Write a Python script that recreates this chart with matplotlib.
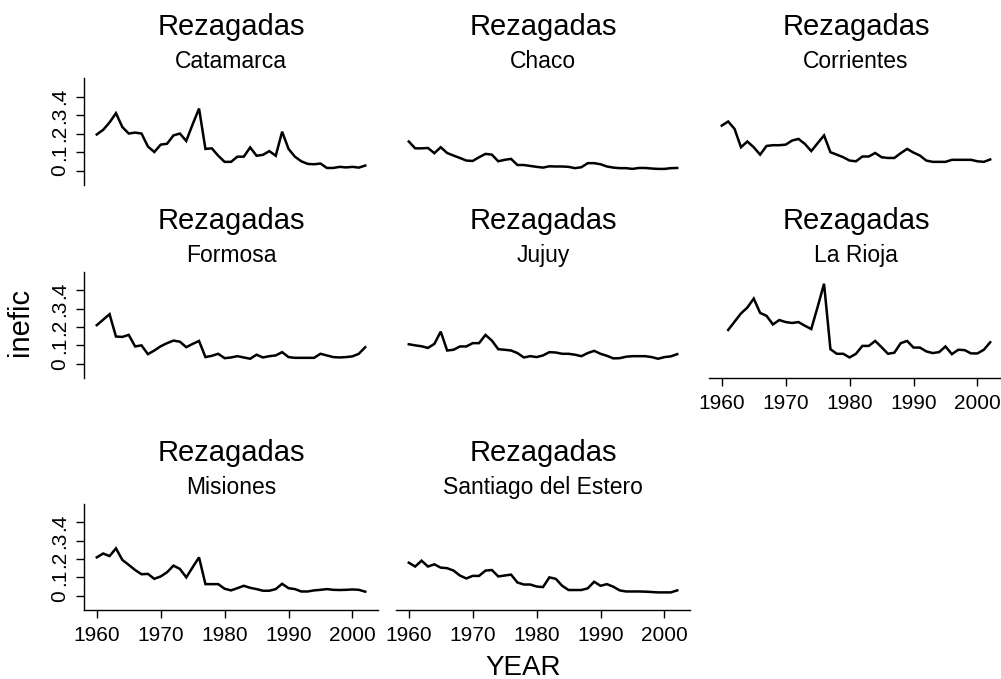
import numpy as np
import matplotlib
matplotlib.use("Agg")
import matplotlib.pyplot as plt

plt.rcParams['font.family'] = ['Liberation Sans', 'DejaVu Sans']

years = list(range(1960, 2003))
group_title = "Rezagadas"
provinces = ["Catamarca", "Chaco", "Corrientes", "Formosa", "Jujuy",
             "La Rioja", "Misiones", "Santiago del Estero"]

catamarca = [0.195, 0.22, 0.26, 0.31, 0.235, 0.20, 0.205, 0.20, 0.13, 0.10,
             0.14, 0.145, 0.19, 0.20, 0.16, 0.25, 0.335, 0.117, 0.12, 0.08,
             0.047, 0.047, 0.075, 0.075, 0.125, 0.08, 0.085, 0.105, 0.08, 0.21,
             0.117, 0.075, 0.05, 0.036, 0.034, 0.038, 0.014, 0.014, 0.02, 0.017,
             0.02, 0.016, 0.027]
chaco = [0.157, 0.12, 0.12, 0.122, 0.094, 0.126, 0.095, 0.081, 0.068, 0.054,
         0.052, 0.072, 0.09, 0.086, 0.05, 0.058, 0.063, 0.03, 0.03, 0.025,
         0.02, 0.016, 0.023, 0.022, 0.022, 0.02, 0.013, 0.018, 0.04, 0.04,
         0.034, 0.022, 0.016, 0.013, 0.013, 0.009, 0.014, 0.014, 0.011, 0.009,
         0.009, 0.013, 0.014]
corrientes = [0.243, 0.265, 0.225, 0.126, 0.157, 0.126, 0.086, 0.133, 0.137, 0.137,
              0.14, 0.162, 0.171, 0.144, 0.105, 0.148, 0.19, 0.099, 0.086, 0.072,
              0.054, 0.05, 0.076, 0.076, 0.095, 0.072, 0.068, 0.068, 0.094, 0.117,
              0.097, 0.081, 0.054, 0.047, 0.047, 0.047, 0.058, 0.058, 0.058, 0.058,
              0.05, 0.047, 0.06]
formosa = [0.21, 0.24, 0.27, 0.148, 0.146, 0.157, 0.094, 0.10, 0.052, 0.072,
           0.095, 0.112, 0.126, 0.12, 0.09, 0.108, 0.124, 0.036, 0.043, 0.054,
           0.03, 0.034, 0.041, 0.034, 0.027, 0.049, 0.034, 0.041, 0.045, 0.063,
           0.036, 0.032, 0.032, 0.032, 0.032, 0.054, 0.045, 0.036, 0.034, 0.036,
           0.04, 0.054, 0.09]
jujuy = [0.106, 0.10, 0.095, 0.086, 0.108, 0.175, 0.072, 0.076, 0.094, 0.094,
         0.112, 0.112, 0.157, 0.126, 0.079, 0.076, 0.072, 0.058, 0.034, 0.041,
         0.036, 0.045, 0.063, 0.061, 0.054, 0.054, 0.049, 0.041, 0.058, 0.07,
         0.054, 0.043, 0.029, 0.03, 0.038, 0.041, 0.041, 0.041, 0.036, 0.027,
         0.036, 0.04, 0.052]
la_rioja = [np.nan, 0.184, 0.229, 0.274, 0.306, 0.355, 0.277, 0.261, 0.214, 0.238,
            0.227, 0.222, 0.227, 0.207, 0.189, 0.31, 0.436, 0.079, 0.054, 0.054,
            0.034, 0.054, 0.097, 0.097, 0.124, 0.09, 0.054, 0.06, 0.112, 0.124,
            0.088, 0.088, 0.067, 0.058, 0.063, 0.094, 0.052, 0.076, 0.074, 0.056,
            0.056, 0.076, 0.117]
misiones = [0.209, 0.23, 0.216, 0.258, 0.195, 0.168, 0.14, 0.117, 0.119, 0.092,
            0.105, 0.128, 0.164, 0.146, 0.10, 0.155, 0.209, 0.063, 0.063, 0.063,
            0.038, 0.029, 0.041, 0.054, 0.043, 0.036, 0.027, 0.027, 0.036, 0.065,
            0.041, 0.036, 0.023, 0.023, 0.029, 0.032, 0.036, 0.032, 0.031, 0.032,
            0.034, 0.032, 0.022]
santiago = [0.18, 0.159, 0.191, 0.159, 0.171, 0.153, 0.15, 0.137, 0.11, 0.094,
            0.108, 0.108, 0.137, 0.14, 0.105, 0.11, 0.115, 0.072, 0.061, 0.061,
            0.05, 0.047, 0.10, 0.092, 0.054, 0.031, 0.031, 0.031, 0.04, 0.076,
            0.054, 0.063, 0.049, 0.029, 0.023, 0.023, 0.023, 0.022, 0.02, 0.018,
            0.018, 0.018, 0.029]

series = [catamarca, chaco, corrientes, formosa, jujuy, la_rioja, misiones, santiago]

ytick_vals = [0, 0.1, 0.2, 0.3, 0.4]
ytick_labels = ["0", ".1", ".2", ".3", ".4"]
xtick_vals = [1960, 1970, 1980, 1990, 2000]
xtick_labels = ["1960", "1970", "1980", "1990", "2000"]

W, H = 1001, 679
fig = plt.figure(figsize=(W / 100, H / 100), dpi=100)

col_left = [84, 396, 709]
col_w = 294
row_top = [78, 272, 504]
row_bot = [185, 378, 610]

px2pt = 72 / 100

for i, (name, vals) in enumerate(zip(provinces, series)):
    r, c = divmod(i, 3)
    left = col_left[c]
    top, bot = row_top[r], row_bot[r]
    ax = fig.add_axes([left / W, 1 - bot / H, col_w / W, (bot - top) / H])
    ax.plot(years, vals, color='black', lw=1.8, solid_joinstyle='miter')
    ax.set_xlim(1958, 2004)
    ax.set_ylim(-0.078, 0.5)
    for s in ax.spines.values():
        s.set_visible(False)
    ax.patch.set_alpha(0)
    if c == 0:
        ax.spines['left'].set_visible(True)
        ax.spines['left'].set_linewidth(1.0)
        ax.set_yticks(ytick_vals)
        ax.set_yticklabels(ytick_labels, rotation=90, va='center', fontsize=15)
        ax.tick_params(axis='y', length=5.8, width=1.0, pad=5)
    else:
        ax.set_yticks([])
    bottom_panel = (r == 2) or (r == 1 and c == 2)
    if bottom_panel:
        ax.spines['bottom'].set_visible(True)
        ax.spines['bottom'].set_linewidth(1.0)
        ax.set_xticks(xtick_vals)
        ax.set_xticklabels(xtick_labels, fontsize=15)
        ax.tick_params(axis='x', length=5.8, width=1.0, pad=5.5)
    else:
        ax.set_xticks([])
    ax.annotate(name, xy=(0.5, 1), xycoords='axes fraction',
                xytext=(0, 10 * px2pt), textcoords='offset points',
                ha='center', va='baseline', fontsize=16.5)
    ax.annotate(group_title, xy=(0.5, 1), xycoords='axes fraction',
                xytext=(0, 43 * px2pt), textcoords='offset points',
                ha='center', va='baseline', fontsize=21)

fig.text(20 / W, 1 - 322 / H, "inefic", rotation=90, ha='center', va='center',
         fontsize=21)
fig.text(523 / W, 1 - 675 / H, "YEAR", ha='center', va='baseline', fontsize=20)

fig.savefig("out.png", dpi=100, facecolor='white')
